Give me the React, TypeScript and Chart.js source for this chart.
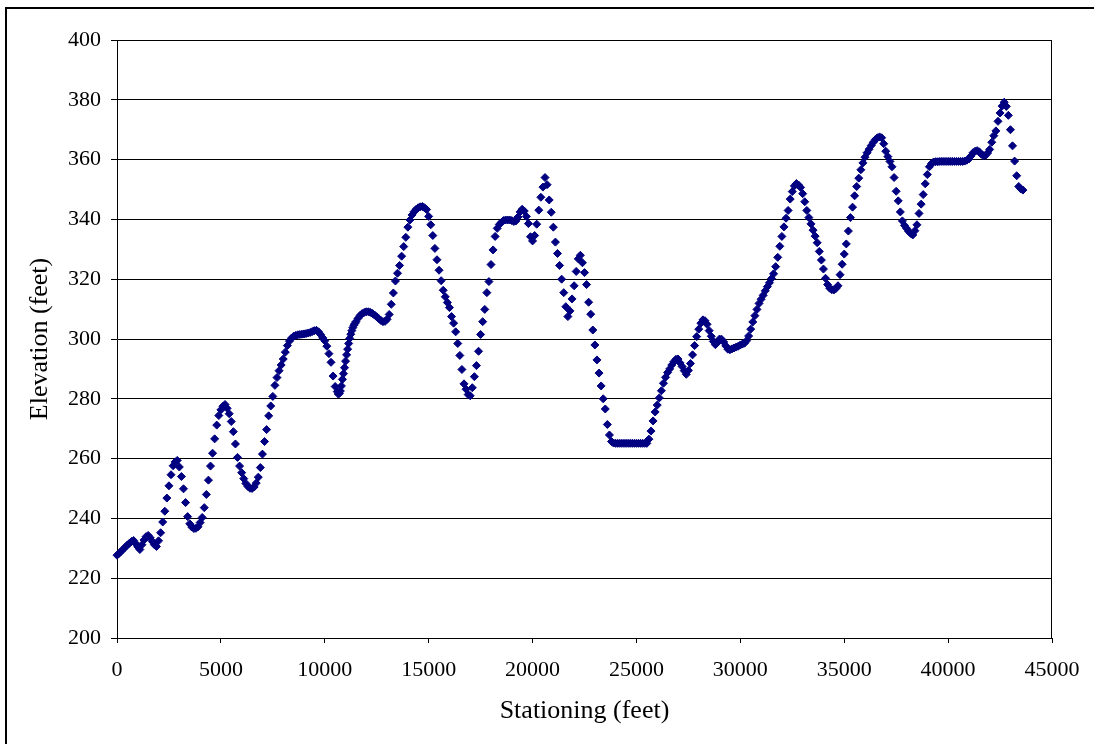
import React, { useEffect, useRef } from "react";
import { Chart, registerables } from "chart.js";

Chart.register(...registerables);

// Station (feet) of each surveyed point
const stations: number[] = [
  0, 100, 200, 300, 400, 500, 600, 700, 800, 900,
  1000, 1100, 1200, 1300, 1400, 1500, 1600, 1700, 1800, 1900,
  2000, 2100, 2200, 2300, 2400, 2500, 2600, 2700, 2800, 2900,
  3000, 3100, 3200, 3300, 3400, 3500, 3600, 3700, 3800, 3900,
  4000, 4100, 4200, 4300, 4400, 4500, 4600, 4700, 4800, 4900,
  5000, 5100, 5200, 5300, 5400, 5500, 5600, 5700, 5800, 5900,
  6000, 6100, 6200, 6300, 6400, 6500, 6600, 6700, 6800, 6900,
  7000, 7100, 7200, 7300, 7400, 7500, 7600, 7700, 7800, 7900,
  8000, 8100, 8200, 8300, 8400, 8500, 8600, 8700, 8800, 8900,
  9000, 9100, 9200, 9300, 9400, 9500, 9600, 9700, 9800, 9900,
  10000, 10100, 10200, 10300, 10400, 10500, 10600,
  10650, 10700, 10750, 10800, 10850, 10900, 10950, 11000, 11050, 11100,
  11150, 11200, 11250, 11300, 11350, 11400, 11450, 11500,
  11600, 11700, 11800, 11900, 12000, 12100, 12200, 12300, 12400, 12500,
  12600, 12700, 12800, 12900, 13000, 13100, 13200, 13300, 13400, 13500,
  13600, 13700, 13800, 13900, 14000, 14100, 14200, 14300, 14400, 14500,
  14600, 14700, 14800, 14900, 15000, 15100, 15200, 15300, 15400, 15500,
  15600, 15700, 15800, 15900, 16000, 16100, 16200, 16300, 16400, 16500,
  16600, 16700, 16800, 16900, 17000, 17100, 17200, 17300, 17400, 17500,
  17600, 17700, 17800, 17900, 18000, 18100, 18200, 18300, 18400, 18500,
  18600, 18700, 18800, 18900, 19000, 19100, 19200, 19300, 19400, 19500,
  19600, 19700, 19800, 19900, 20000, 20100, 20200, 20300, 20400, 20500,
  20600, 20700, 20800, 20900, 21000, 21100, 21200, 21300, 21400, 21500,
  21600, 21700, 21800, 21900, 22000, 22100, 22200, 22300, 22400, 22500,
  22600, 22700, 22800, 22900, 23000, 23100, 23200, 23300, 23400, 23500,
  23600, 23700, 23800, 23900, 24000, 24100, 24200, 24300, 24400, 24500,
  24600, 24700, 24800, 24900, 25000, 25100, 25200, 25300, 25400, 25500,
  25600, 25700, 25800, 25900, 26000, 26100, 26200, 26300, 26400, 26500,
  26600, 26700, 26800, 26900, 27000, 27100, 27200, 27300, 27400, 27500,
  27600, 27700, 27800, 27900, 28000, 28100, 28200, 28300, 28400, 28500,
  28600, 28700, 28800, 28900, 29000, 29100, 29200, 29300, 29400, 29500,
  29600, 29700, 29800, 29900, 30000, 30100, 30200, 30300, 30400, 30500,
  30600, 30700, 30800, 30900, 31000, 31100, 31200, 31300, 31400, 31500,
  31600, 31700, 31800, 31900, 32000, 32100, 32200, 32300, 32400, 32500,
  32600, 32700, 32800, 32900, 33000, 33100, 33200, 33300, 33400, 33500,
  33600, 33700, 33800, 33900, 34000, 34100, 34200, 34300, 34400, 34500,
  34600, 34700, 34800, 34900, 35000, 35100, 35200, 35300, 35400, 35500,
  35600, 35700, 35800, 35900, 36000, 36100, 36200, 36300, 36400, 36500,
  36600, 36700, 36800, 36900, 37000, 37100, 37200, 37300, 37400, 37500,
  37600, 37700, 37800, 37900, 38000, 38100, 38200, 38300, 38400, 38500,
  38600, 38700, 38800, 38900, 39000, 39100, 39200, 39300, 39400, 39500,
  39600, 39700, 39800, 39900, 40000, 40100, 40200, 40300, 40400, 40500,
  40600, 40700, 40800, 40900, 41000, 41100, 41200, 41300, 41400, 41500,
  41600, 41700, 41800, 41900, 42000, 42100, 42200, 42300, 42400, 42500,
  42600, 42700, 42800, 42900, 43000, 43100, 43200, 43300, 43400, 43500,
  43600,
];

// Ground elevation (feet) at each station
const elevations: number[] = [
  227.7, 228.3, 229.0, 229.7, 230.4, 231.1, 231.7, 232.3, 232.6, 231.6,
  230.5, 229.6, 231.2, 232.8, 233.9, 234.3, 233.5, 232.3, 231.2, 230.6,
  232.5, 235.2, 238.8, 242.4, 246.8, 250.9, 254.6, 257.6, 258.9, 259.4,
  257.2, 254.0, 249.9, 245.3, 240.6, 238.2, 237.1, 236.6, 236.7, 237.2,
  238.6, 240.3, 243.6, 248.0, 252.8, 257.5, 261.8, 266.6, 271.2, 274.4,
  276.3, 277.5, 278.1, 276.8, 275.0, 272.4, 269.0, 264.9, 260.4, 257.5,
  255.3, 253.3, 251.7, 250.7, 250.1, 250.0, 250.5, 251.8, 253.8, 257.0,
  261.5, 265.7, 269.7, 274.3, 277.6, 280.8, 284.5, 287.1, 289.4, 291.3,
  293.3, 295.6, 297.8, 299.3, 300.3, 300.9, 301.2, 301.4, 301.5, 301.6,
  301.7, 301.8, 302.0, 302.2, 302.5, 302.8, 302.9, 302.4, 301.5, 300.4,
  299.4, 297.6, 295.1, 292.2, 287.6, 284.1, 282.4,
  281.6, 281.8, 282.6, 284.3, 286.5, 288.4, 290.4, 292.6, 294.7, 296.6,
  298.5, 300.2, 301.6, 302.8, 303.8, 304.6, 305.2, 305.8,
  306.9, 307.9, 308.5, 308.9, 309.1, 309.1, 308.9, 308.5, 308.0, 307.4,
  306.8, 306.2, 305.8, 305.9, 306.6, 308.2, 311.6, 315.4, 319.4, 322.0,
  324.6, 327.7, 330.9, 334.0, 337.4, 339.8, 341.5, 342.6, 343.4, 343.9,
  344.2, 344.3, 343.9, 343.3, 341.0, 338.2, 334.6, 330.3, 326.5, 323.0,
  319.5, 316.3, 314.1, 312.2, 310.5, 307.5, 305.3, 302.4, 298.5, 294.5,
  289.8, 285.0, 283.2, 281.4, 281.0, 283.7, 287.4, 291.1, 295.9, 301.5,
  305.8, 309.9, 315.5, 319.2, 324.9, 329.8, 334.3, 337.0, 338.3, 339.0,
  339.6, 339.8, 339.8, 339.8, 339.6, 339.3, 339.5, 340.8, 342.5, 343.4,
  342.8, 341.0, 338.6, 334.2, 332.8, 334.6, 338.4, 343.1, 347.4, 350.8,
  354.0, 351.6, 346.5, 342.4, 337.4, 332.4, 328.6, 324.6, 320.0, 315.5,
  310.8, 307.5, 309.4, 313.4, 317.8, 322.6, 326.8, 328.0, 325.5, 322.2,
  318.2, 312.3, 308.3, 303.0, 298.0, 293.0, 288.6, 284.3, 280.0, 276.6,
  271.4, 267.9, 265.7, 265.2, 265.1, 265.1, 265.1, 265.1, 265.1, 265.1,
  265.1, 265.1, 265.1, 265.1, 265.1, 265.1, 265.1, 265.1, 265.1, 265.1,
  266.5, 269.2, 272.6, 275.6, 277.9, 280.3, 282.7, 285.2, 287.2, 288.8,
  290.0, 291.3, 292.4, 293.2, 293.3, 292.0, 290.8, 289.4, 288.2, 289.5,
  291.8, 294.7, 297.8, 300.8, 303.3, 305.3, 306.4, 306.1, 304.9, 302.8,
  300.9, 299.2, 298.1, 298.8, 300.0, 299.9, 299.0, 297.7, 296.6, 296.4,
  296.7, 297.0, 297.3, 297.6, 298.0, 298.3, 298.6, 299.4, 301.0, 303.3,
  305.7, 307.8, 309.9, 311.9, 313.3, 314.6, 316.1, 317.5, 318.8, 320.2,
  321.8, 324.2, 327.3, 331.0, 334.3, 337.5, 340.4, 343.0, 346.8, 349.3,
  351.2, 352.0, 351.5, 350.7, 348.6, 345.9, 343.0, 340.6, 338.5, 336.4,
  334.4, 332.2, 329.3, 326.4, 323.4, 320.3, 318.2, 317.0, 316.5, 316.4,
  316.9, 317.8, 321.5, 325.0, 328.4, 331.8, 336.1, 340.6, 344.1, 347.9,
  351.0, 353.8, 356.6, 358.9, 360.8, 362.3, 363.5, 364.7, 365.8, 366.7,
  367.3, 367.6, 367.3, 365.3, 362.8, 361.0, 359.4, 357.6, 354.0, 349.4,
  346.2, 342.5, 339.5, 338.0, 337.0, 336.0, 335.3, 334.8, 336.2, 338.2,
  342.0, 345.1, 348.3, 351.9, 355.0, 357.6, 358.7, 359.2, 359.3, 359.3,
  359.4, 359.4, 359.4, 359.4, 359.4, 359.4, 359.4, 359.4, 359.4, 359.4,
  359.4, 359.4, 359.5, 359.8, 360.2, 361.2, 362.3, 362.8, 363.0, 362.6,
  361.8, 361.3, 361.4, 362.2, 363.4, 365.8, 368.0, 369.6, 372.8, 375.6,
  377.9, 379.2, 377.8, 374.8, 370.0, 364.6, 359.5, 354.6, 351.0, 350.2,
  349.8,
];

const xMin = 0;
const xMax = 45000;
const xStep = 5000;
const yMin = 200;
const yMax = 400;
const yStep = 20;
const xTitle = "Stationing (feet)";
const yTitle = "Elevation (feet)";

const FONT = '"Liberation Serif", "Times New Roman", serif';

export default function App() {
  const ref = useRef<HTMLCanvasElement | null>(null);

  useEffect(() => {
    if (!ref.current) return;
    const points = stations.map((x, i) => ({ x, y: elevations[i] }));

    const framePlugin = {
      id: "frame",
      beforeDraw(chart: any) {
        const { ctx, width, height } = chart;
        ctx.save();
        ctx.fillStyle = "#ffffff";
        ctx.fillRect(0, 0, width, height);
        ctx.strokeStyle = "#000000";
        ctx.lineWidth = 2;
        ctx.strokeRect(6, 8, width + 50, height + 50);
        ctx.restore();
      },
      beforeDatasetsDraw(chart: any) {
        const { ctx, chartArea } = chart;
        ctx.save();
        ctx.strokeStyle = "#000000";
        ctx.lineWidth = 1;
        ctx.beginPath();
        const x = Math.round(chartArea.right) - 0.5;
        ctx.moveTo(x, Math.round(chartArea.top) + 0.5);
        ctx.lineTo(x, Math.round(chartArea.bottom) + 0.5);
        ctx.stroke();
        ctx.restore();
      },
    };

    const chart = new Chart(ref.current, {
      type: "scatter",
      data: {
        datasets: [
          {
            data: points,
            pointStyle: "rectRot",
            pointRadius: 4,
            pointHoverRadius: 4,
            backgroundColor: "#000080",
            borderColor: "#000080",
            borderWidth: 1,
            showLine: false,
            clip: false as any,
          },
        ],
      },
      options: {
        animation: false,
        responsive: false,
        devicePixelRatio: 1,
        events: [],
        layout: { padding: { left: 0, top: 40, right: 42, bottom: 0 } },
        plugins: {
          legend: { display: false },
          tooltip: { enabled: false },
        },
        scales: {
          x: {
            type: "linear",
            min: xMin,
            max: xMax,
            afterFit: (s: any) => {
              s.height = 106;
            },
            ticks: {
              stepSize: xStep,
              padding: 14,
              color: "#000",
              maxRotation: 0,
              autoSkip: false,
              font: { family: FONT, size: 22 },
              callback: (v: any) => String(v),
            },
            grid: {
              drawOnChartArea: false,
              drawTicks: true,
              tickLength: 5,
              color: "#000",
            },
            border: { color: "#000", width: 1 },
            title: {
              display: true,
              text: xTitle,
              color: "#000",
              font: { family: FONT, size: 26 },
              padding: { top: 0, bottom: 17 },
            },
          },
          y: {
            type: "linear",
            min: yMin,
            max: yMax,
            afterFit: (s: any) => {
              s.width = 117;
            },
            ticks: {
              stepSize: yStep,
              padding: 10,
              color: "#000",
              font: { family: FONT, size: 22 },
              callback: (v: any) => String(v),
            },
            grid: {
              drawOnChartArea: true,
              drawTicks: true,
              tickLength: 6,
              color: "#000",
            },
            border: { color: "#000", width: 1 },
            title: {
              display: true,
              text: yTitle,
              color: "#000",
              font: { family: FONT, size: 26 },
              padding: { top: 25, bottom: 0 },
            },
          },
        },
      },
      plugins: [framePlugin],
    });

    return () => chart.destroy();
  }, []);

  return (
    <div style={{ position: "fixed", left: 0, top: 0, width: 1094, height: 744, background: "#fff" }}>
      <canvas ref={ref} width={1094} height={744} style={{ display: "block" }} />
    </div>
  );
}
